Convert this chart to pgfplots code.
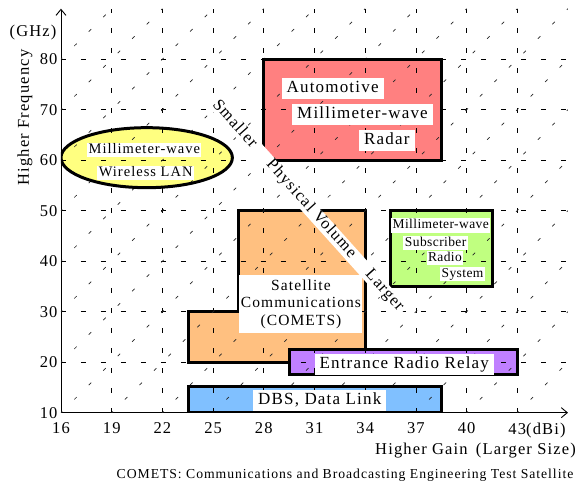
\documentclass[border=0pt]{standalone}
\usepackage{fontspec}
\setmainfont{Liberation Serif}[LetterSpace=7]
\newfontfamily\greenfont{Liberation Serif}[LetterSpace=3]
\usepackage{pgfplots}
\pgfplotsset{compat=1.18}
\usetikzlibrary{arrows.meta}

\definecolor{cRed}{RGB}{255,128,128}
\definecolor{cOrange}{RGB}{255,192,128}
\definecolor{cGreen}{RGB}{192,255,128}
\definecolor{cPurple}{RGB}{192,128,255}
\definecolor{cBlue}{RGB}{128,192,255}
\definecolor{cYellow}{RGB}{255,255,128}

\begin{document}
\begin{tikzpicture}[x=1pt,y=1pt,
  grd/.style={line width=0.7pt, black, dash pattern=on 5pt off 15pt},
  diag/.style={line width=0.7pt, black!85, dash pattern=on 3.5pt off 16.95pt, dash phase=1.75pt},
  bord/.style={draw=black, line width=3pt, line join=miter},
  lab/.style={fill=white, inner xsep=5pt, inner ysep=2.5pt, text height=12pt, text depth=4pt, font=\fontsize{17}{19}\selectfont},
  glab/.style={fill=white, inner xsep=1.5pt, inner ysep=1pt, text height=9.5pt, text depth=3pt, font=\greenfont\fontsize{13.5}{15}\selectfont},
  llab/.style={fill=white, inner xsep=1.5pt, inner ysep=0.5pt, text height=10pt, text depth=3pt, font=\fontsize{14.5}{16}\selectfont},
]
\useasboundingbox (-61,-73.3) rectangle (521,412.7);
\begin{axis}[
  at={(0pt,0pt)}, anchor=south west,
  scale only axis, width=507pt, height=404pt,
  xmin=16, xmax=46, ymin=10, ymax=90,
  axis lines=left,
  axis line style={line width=0.9pt, -{Straight Barb[length=6pt,width=10pt,line width=0.9pt]}},
  xtick={16,19,22,25,28,31,34,37,40,43},
  xticklabels={16,19,22,25,28,31,34,37,40,{43\rlap{(dBi)}}},
  ytick={10,20,30,40,50,60,70,80},
  major tick length=0pt,
  tick style={draw=none},
  tick label style={font=\fontsize{16.5}{18}\selectfont},
  xticklabel style={yshift=-6.5pt},
  /pgf/number format/assume math mode=true,
]
% ---- fills
\addplot[fill=cRed, draw=none] coordinates {(28,60) (38.5,60) (38.5,80) (28,80)} -- cycle;
\addplot[fill=cGreen, draw=none] coordinates {(35.47,35) (41.52,35) (41.52,50) (35.47,50)} -- cycle;
\addplot[fill=cBlue, draw=none] coordinates {(23.57,10) (38.5,10) (38.5,15.1) (23.57,15.1)} -- cycle;
\addplot[fill=cOrange, bord] coordinates {(23.57,20) (34.03,20) (34.03,50) (26.49,50) (26.49,30.1) (23.57,30.1)} -- cycle;
\addplot[fill=cPurple, draw=none] coordinates {(29.55,17.5) (43,17.5) (43,22.55) (29.55,22.55)} -- cycle;
\fill[cYellow] (axis cs:21.07,60.5) ellipse [x radius=85.7pt, y radius=30pt];
% ---- grid
\addplot[grd] coordinates {(19,10) (19,90)};
\addplot[grd] coordinates {(22,10) (22,90)};
\addplot[grd] coordinates {(25,10) (25,90)};
\addplot[grd] coordinates {(28,10) (28,90)};
\addplot[grd] coordinates {(31,10) (31,90)};
\addplot[grd] coordinates {(34,10) (34,90)};
\addplot[grd] coordinates {(37,10) (37,90)};
\addplot[grd] coordinates {(40,10) (40,90)};
\addplot[grd] coordinates {(43,10) (43,90)};
\addplot[grd] coordinates {(16,20) (46,20)};
\addplot[grd] coordinates {(16,30) (46,30)};
\addplot[grd] coordinates {(16,40) (46,40)};
\addplot[grd] coordinates {(16,50) (46,50)};
\addplot[grd] coordinates {(16,60) (46,60)};
\addplot[grd] coordinates {(16,70) (46,70)};
\addplot[grd] coordinates {(16,80) (46,80)};
% ---- diagonal dashed lines
\addplot[diag] coordinates {(16,10) (40,90)};
\addplot[diag] coordinates {(16,20) (37,90)};
\addplot[diag] coordinates {(16,30) (34,90)};
\addplot[diag] coordinates {(16,40) (31,90)};
\addplot[diag] coordinates {(16,50) (28,90)};
\addplot[diag] coordinates {(16,60) (25,90)};
\addplot[diag] coordinates {(16,70) (22,90)};
\addplot[diag] coordinates {(16,80) (19,90)};
\addplot[diag] coordinates {(19,10) (43,90)};
\addplot[diag] coordinates {(22,10) (46,90)};
\addplot[diag] coordinates {(25,10) (46,80)};
\addplot[diag] coordinates {(28,10) (46,70)};
\addplot[diag] coordinates {(31,10) (46,60)};
\addplot[diag] coordinates {(34,10) (46,50)};
\addplot[diag] coordinates {(37,10) (46,40)};
\addplot[diag] coordinates {(40,10) (46,30)};
\addplot[diag] coordinates {(43,10) (46,20)};
% ---- borders
\addplot[bord] coordinates {(28,60) (38.5,60) (38.5,80) (28,80)} -- cycle;
\addplot[bord] coordinates {(35.47,35) (41.52,35) (41.52,50) (35.47,50)} -- cycle;
\addplot[bord] coordinates {(23.57,10) (38.5,10) (38.5,15.1) (23.57,15.1)} -- cycle;
\addplot[bord] coordinates {(29.55,17.5) (43,17.5) (43,22.55) (29.55,22.55)} -- cycle;
\draw[line width=3pt] (axis cs:21.07,60.5) ellipse [x radius=85.7pt, y radius=30pt];
% ---- diagonal band
\node[fill=white, rotate=-48, inner xsep=3pt, inner ysep=0.5pt, text height=10.5pt, text depth=3.5pt,
  font=\fontsize{16.5}{18}\selectfont] at (axis cs:30.6,50.9)
  {Smaller\hspace{22pt}Physical Volume\hspace{22pt}Larger};
% ---- labels
\node[lab] at (axis cs:32.07,74.2) {Automotive};
\node[lab] at (axis cs:33.84,69.05) {Millimeter-wave};
\node[lab] at (axis cs:35.28,63.92) {Radar};
\node[lab] at (axis cs:31.31,12.34) {DBS, Data Link};
\node[lab] at (axis cs:36.31,19.6) {Entrance Radio Relay};
\node[fill=white, inner sep=0pt, minimum width=123pt, minimum height=57.7pt, align=center,
  font=\fontsize{15.5}{17.5}\selectfont] at (axis cs:30.2,31.55)
  {Satellite\\Communications\\(COMETS)};
\node[llab] at (axis cs:20.93,61.96) {Millimeter-wave};
\node[llab] at (axis cs:21.01,57.4) {Wireless LAN};
\node[glab] at (axis cs:38.47,47.03) {Millimeter-wave};
\node[glab] at (axis cs:38.17,43.6) {Subscriber};
\node[glab] at (axis cs:38.72,40.63) {Radio};
\node[glab] at (axis cs:39.76,37.47) {System};
\end{axis}
% ---- outer texts
\node[font=\fontsize{16.5}{18}\selectfont] at (-28,379.7) {(GHz)};
\node[font=\fontsize{16.5}{18}\selectfont, rotate=90] at (-36,295.2) {Higher Frequency};
\node[font=\fontsize{16.5}{18}\selectfont] at (414.5,-37.6) {Higher Gain\hspace{3pt} (Larger Size)};
\node[font=\fontsize{13.7}{15}\selectfont, anchor=base] at (284,-66) {COMETS: Communications and Broadcasting Engineering Test Satellite};
\end{tikzpicture}
\end{document}
